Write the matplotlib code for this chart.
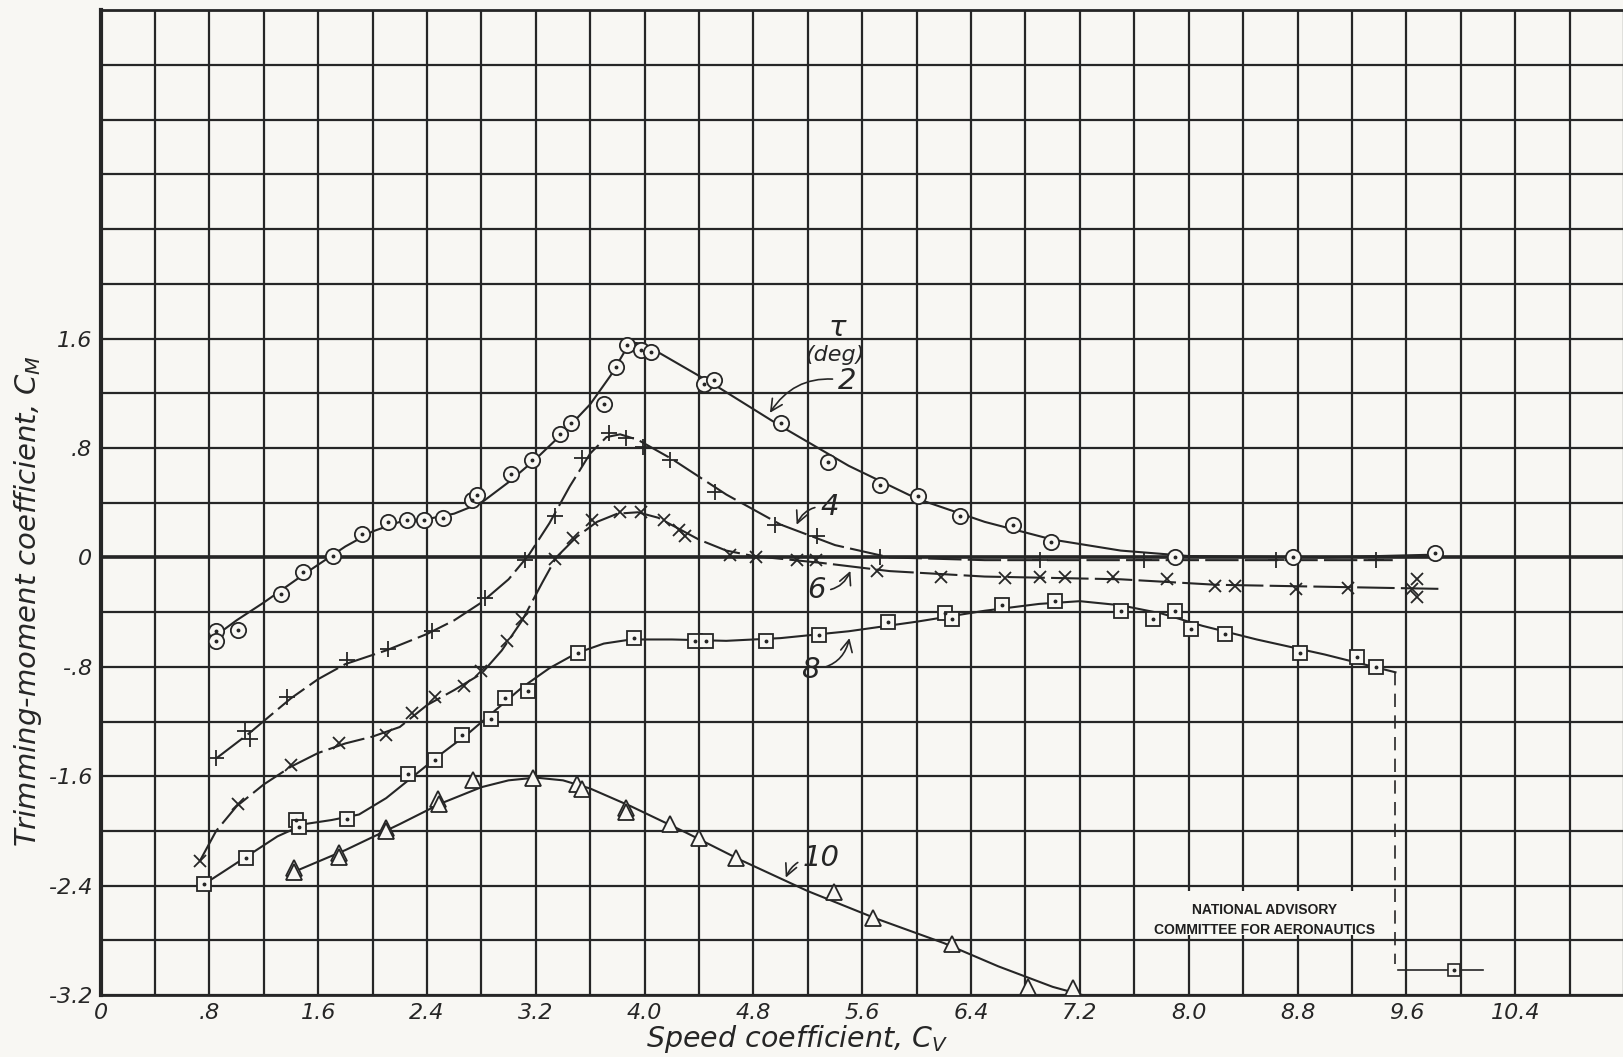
import numpy as np
import matplotlib
matplotlib.use("Agg")
import matplotlib.pyplot as plt
from matplotlib.patches import Rectangle

# measured points, tau = 2 deg (circles)
x2 = [0.85, 0.85, 1.01, 1.33, 1.49, 1.71, 1.92, 2.11, 2.25, 2.38, 2.52, 2.73, 2.77,
      3.02, 3.17, 3.38, 3.46, 3.70, 3.79, 3.87, 3.97, 4.05, 4.44, 4.51, 5.00, 5.35,
      5.73, 6.01, 6.32, 6.71, 6.99, 7.90, 8.77, 9.81]
y2 = [-0.54, -0.61, -0.53, -0.27, -0.11, 0.01, 0.17, 0.26, 0.27, 0.27, 0.29, 0.42, 0.46,
      0.61, 0.71, 0.90, 0.98, 1.12, 1.39, 1.55, 1.52, 1.50, 1.27, 1.30, 0.98, 0.70,
      0.53, 0.45, 0.30, 0.24, 0.11, 0.00, 0.00, 0.03]
# faired curve, tau = 2
cx2 = [0.85, 1.0, 1.2, 1.5, 1.8, 2.0, 2.2, 2.4, 2.6, 2.8, 3.0, 3.2, 3.4, 3.6, 3.75,
       3.85, 3.92, 4.0, 4.1, 4.5, 5.0, 5.5, 6.0, 6.5, 7.0, 7.5, 8.0, 9.0, 9.8]
cy2 = [-0.57, -0.46, -0.33, -0.12, 0.08, 0.19, 0.26, 0.28, 0.32, 0.40, 0.55, 0.72,
       0.91, 1.12, 1.33, 1.50, 1.57, 1.56, 1.50, 1.27, 0.96, 0.67, 0.43, 0.26, 0.13,
       0.05, 0.01, 0.0, 0.02]

# tau = 4 deg (plus)
x4 = [0.85, 1.06, 1.10, 1.37, 1.81, 2.11, 2.44, 2.83, 3.12, 3.34, 3.54, 3.74, 3.86,
      3.99, 4.19, 4.52, 4.96, 5.27, 5.73, 6.91, 7.67, 8.64, 9.38]
y4 = [-1.47, -1.27, -1.33, -1.02, -0.75, -0.67, -0.54, -0.30, -0.02, 0.30, 0.73, 0.91,
      0.87, 0.81, 0.71, 0.48, 0.24, 0.16, 0.0, -0.02, -0.02, -0.02, -0.02]
cx4 = [0.85, 1.1, 1.4, 1.6, 1.8, 2.1, 2.4, 2.6, 2.8, 3.0, 3.15, 3.3, 3.45, 3.6, 3.72,
       3.82, 3.95, 4.2, 4.6, 5.0, 5.4, 5.8, 6.5, 9.5]
cy4 = [-1.47, -1.28, -1.03, -0.89, -0.78, -0.68, -0.56, -0.46, -0.33, -0.16, 0.02,
       0.25, 0.52, 0.76, 0.88, 0.90, 0.86, 0.72, 0.46, 0.24, 0.09, 0.0, -0.02, -0.02]

# tau = 6 deg (x)
x6 = [0.73, 1.01, 1.40, 1.75, 2.10, 2.29, 2.46, 2.67, 2.80, 2.99, 3.10, 3.34, 3.47,
      3.61, 3.82, 3.97, 4.14, 4.25, 4.30, 4.63, 4.82, 5.12, 5.26, 5.71, 6.18, 6.65,
      6.91, 7.09, 7.44, 7.84, 8.19, 8.34, 8.79, 9.17, 9.64, 9.68, 9.68]
y6 = [-2.22, -1.80, -1.52, -1.36, -1.30, -1.14, -1.02, -0.94, -0.83, -0.61, -0.45,
      -0.01, 0.14, 0.27, 0.33, 0.33, 0.27, 0.20, 0.16, 0.02, 0.0, -0.02, -0.02, -0.10,
      -0.14, -0.15, -0.14, -0.14, -0.14, -0.16, -0.21, -0.21, -0.23, -0.22, -0.23,
      -0.16, -0.29]
cx6 = [0.73, 0.85, 1.0, 1.2, 1.4, 1.6, 1.8, 2.0, 2.2, 2.4, 2.6, 2.8, 2.95, 3.1, 3.25,
       3.35, 3.5, 3.65, 3.8, 3.95, 4.1, 4.25, 4.4, 4.6, 4.8, 5.0, 5.3, 5.8, 6.5, 7.5,
       8.2, 9.85]
cy6 = [-2.22, -2.0, -1.82, -1.66, -1.53, -1.43, -1.36, -1.31, -1.24, -1.08, -0.97,
       -0.85, -0.68, -0.46, -0.18, 0.0, 0.15, 0.26, 0.32, 0.33, 0.29, 0.21, 0.13, 0.05,
       0.01, -0.01, -0.04, -0.10, -0.14, -0.16, -0.20, -0.23]

# tau = 8 deg (squares)
x8 = [0.76, 1.07, 1.44, 1.46, 1.81, 2.26, 2.46, 2.66, 2.87, 2.97, 3.14, 3.51, 3.92,
      4.37, 4.45, 4.89, 5.28, 5.79, 6.21, 6.26, 6.63, 7.02, 7.50, 7.74, 7.90, 8.02,
      8.27, 8.82, 9.24, 9.38]
y8 = [-2.39, -2.20, -1.92, -1.97, -1.91, -1.58, -1.48, -1.30, -1.18, -1.03, -0.98,
      -0.70, -0.59, -0.61, -0.61, -0.61, -0.57, -0.47, -0.41, -0.45, -0.35, -0.32,
      -0.39, -0.45, -0.39, -0.52, -0.56, -0.70, -0.73, -0.80]
cx8 = [0.76, 0.9, 1.1, 1.3, 1.5, 1.7, 1.9, 2.1, 2.3, 2.5, 2.7, 2.9, 3.1, 3.3, 3.5,
       3.7, 3.9, 4.2, 4.6, 5.0, 5.5, 6.0, 6.5, 6.9, 7.2, 7.5, 7.8, 8.1, 8.5, 9.0, 9.52]
cy8 = [-2.39, -2.30, -2.17, -2.04, -1.95, -1.92, -1.88, -1.76, -1.60, -1.44, -1.29,
       -1.12, -0.95, -0.81, -0.70, -0.63, -0.60, -0.60, -0.61, -0.59, -0.54, -0.47,
       -0.39, -0.34, -0.32, -0.35, -0.41, -0.50, -0.60, -0.71, -0.84]
# off-scale point for tau = 8
x8_off = 9.95
y8_off = -3.02

# tau = 10 deg (triangles)
x10 = [1.42, 1.42, 1.75, 1.75, 2.10, 2.10, 2.48, 2.49, 2.74, 3.18, 3.50, 3.54, 3.86,
       3.86, 4.19, 4.40, 4.67, 5.39, 5.68, 6.26, 6.82, 7.15]
y10 = [-2.27, -2.30, -2.16, -2.19, -1.98, -2.00, -1.77, -1.80, -1.63, -1.61, -1.66,
       -1.69, -1.83, -1.86, -1.95, -2.05, -2.20, -2.45, -2.64, -2.83, -3.14, -3.15]
cx10 = [1.42, 1.8, 2.2, 2.5, 2.8, 3.0, 3.2, 3.4, 3.6, 3.9, 4.3, 4.7, 5.2, 5.7, 6.2,
        6.6, 7.0, 7.22]
cy10 = [-2.30, -2.14, -1.95, -1.80, -1.68, -1.63, -1.61, -1.63, -1.69, -1.82, -2.01,
        -2.21, -2.44, -2.64, -2.82, -2.99, -3.14, -3.20]

x_tick_pos = [0, 0.8, 1.6, 2.4, 3.2, 4.0, 4.8, 5.6, 6.4, 7.2, 8.0, 8.8, 9.6, 10.4]
x_tick_txt = ["0", ".8", "1.6", "2.4", "3.2", "4.0", "4.8", "5.6", "6.4", "7.2",
              "8.0", "8.8", "9.6", "10.4"]
y_tick_pos = [-3.2, -2.4, -1.6, -0.8, 0, 0.8, 1.6]
y_tick_txt = ["-3.2", "-2.4", "-1.6", "-.8", "0", ".8", "1.6"]

ink = "#262626"
paper = "#f8f7f3"

fig = plt.figure(figsize=(16.24, 10.57), dpi=100, facecolor=paper)
ax = fig.add_axes([0.0619, 0.0586, 0.9381, 0.9316], facecolor=paper)
ax.set_xlim(0, 11.2)
ax.set_ylim(-3.2, 4.0)

# graph paper grid
for gx in np.arange(0, 11.21, 0.4):
    ax.axvline(gx, color=ink, lw=1.6, zorder=1)
for gy in np.arange(-3.2, 4.01, 0.4):
    ax.axhline(gy, color=ink, lw=1.6, zorder=1)
ax.axhline(0, color=ink, lw=2.6, zorder=1)
for s in ax.spines.values():
    s.set_color(ink)
    s.set_linewidth(2.0)
ax.spines["left"].set_linewidth(3.0)

ax.set_xticks(x_tick_pos)
ax.set_xticklabels(x_tick_txt, fontsize=16, style="italic", color=ink)
ax.set_yticks(y_tick_pos)
ax.set_yticklabels(y_tick_txt, fontsize=16, style="italic", color=ink)
ax.tick_params(length=0, pad=6)
ax.set_xlabel("Speed coefficient, $C_V$", fontsize=20.5, style="italic", color=ink)
ax.xaxis.set_label_coords(0.457, -0.028)
ax.set_ylabel("Trimming-moment coefficient, $C_M$", fontsize=21, style="italic",
              color=ink)
ax.yaxis.set_label_coords(-0.037, 0.40)


def draw(cx, cy, px, py, marker, ms, dashes=None, dot=True):
    ln, = ax.plot(cx, cy, color=ink, lw=1.5, zorder=3)
    if dashes:
        ln.set_dashes(dashes)
    face = paper if marker in ("o", "s", "^") else "none"
    ax.plot(px, py, ls="none", marker=marker, ms=ms, mfc=face, mec=ink, mew=1.3,
            zorder=4)
    if dot:
        ax.plot(px, py, ls="none", marker="o", ms=1.8, color=ink, zorder=5)


draw(cx2, cy2, x2, y2, "o", 11)
draw(cx4, cy4, x4, y4, "+", 11, dashes=(16, 3), dot=False)
draw(cx6, cy6, x6, y6, "x", 9, dashes=(18, 3), dot=False)
draw(cx8, cy8, x8, y8, "s", 10)
draw(cx10, cy10, x10, y10, "^", 11, dot=False)

# off-scale point of tau = 8
ax.plot([cx8[-1], cx8[-1]], [cy8[-1], y8_off + 0.05], color=ink, lw=1.2,
        dashes=(8, 5), zorder=3)
ax.plot([9.54, 10.16], [y8_off, y8_off], color=ink, lw=1.2, zorder=3)
ax.plot([x8_off], [y8_off], marker="s", ms=9, mfc=paper, mec=ink, mew=1.2, zorder=4)
ax.plot([x8_off], [y8_off], marker="o", ms=1.8, color=ink, zorder=5)

# curve labels
lab = dict(fontsize=21, style="italic", color=ink, ha="center", va="center")
ax.text(5.42, 1.68, "τ", **lab)
ax.text(5.40, 1.48, "(deg)", fontsize=16, style="italic", color=ink,
        ha="center", va="center")
arr = dict(arrowstyle="->", color=ink, lw=1.2)
ax.annotate("2", xy=(4.91, 1.04), xytext=(5.49, 1.29), **lab,
            arrowprops=dict(arr, connectionstyle="arc3,rad=0.35"))
ax.annotate("4", xy=(5.11, 0.22), xytext=(5.36, 0.37), **lab,
            arrowprops=dict(arr, connectionstyle="arc3,rad=0.4"))
ax.annotate("6", xy=(5.52, -0.08), xytext=(5.26, -0.24), **lab,
            arrowprops=dict(arr, connectionstyle="arc3,rad=0.4"))
ax.annotate("8", xy=(5.51, -0.57), xytext=(5.22, -0.82), **lab,
            arrowprops=dict(arr, connectionstyle="arc3,rad=0.4"))
ax.annotate("10", xy=(5.03, -2.36), xytext=(5.30, -2.20), **lab,
            arrowprops=dict(arr, connectionstyle="arc3,rad=0.4"))

# blank patch of paper behind the NACA stamp
ax.add_patch(Rectangle((7.64, -2.76), 1.62, 0.32, facecolor=paper, edgecolor="none",
                       zorder=2))
ax.text(8.56, -2.65, "NATIONAL ADVISORY\nCOMMITTEE FOR AERONAUTICS", fontsize=10,
        fontweight="bold", family="Liberation Sans", color="#1e1e1e", ha="center",
        va="center", linespacing=1.5, zorder=6)

fig.savefig("out.png", dpi=100, facecolor=paper)
